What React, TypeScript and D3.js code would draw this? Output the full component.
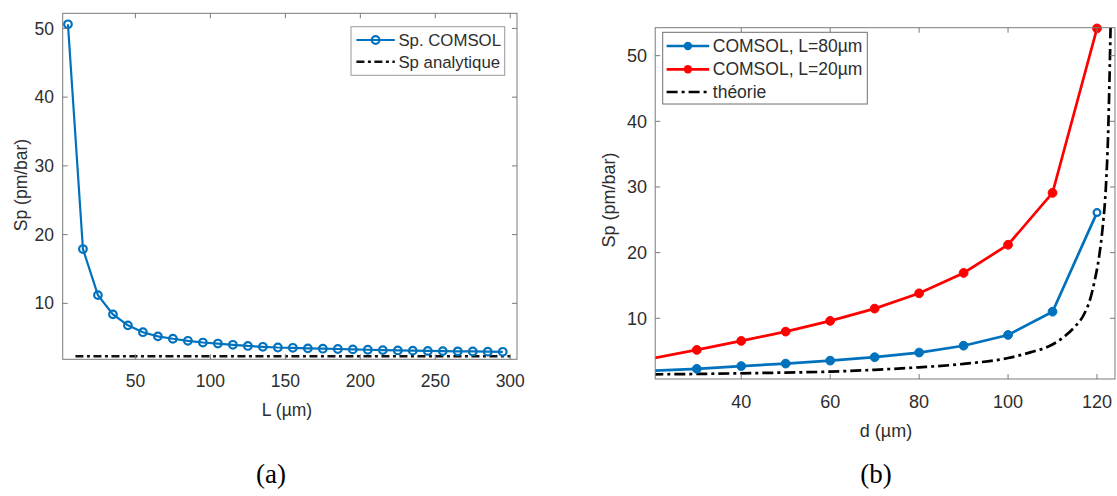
import React from "react";
import * as d3 from "d3";

// ---------- Panel (a) data ----------
const lengthsL = [5, 15, 25, 35, 45, 55, 65, 75, 85, 95, 105, 115, 125, 135, 145, 155, 165, 175, 185, 195, 205, 215, 225, 235, 245, 255, 265, 275, 285, 295];
const spComsol = [50.6, 17.9, 11.2, 8.4, 6.8, 5.8, 5.2, 4.85, 4.55, 4.3, 4.15, 3.97, 3.8, 3.68, 3.58, 3.53, 3.45, 3.4, 3.36, 3.3, 3.25, 3.2, 3.15, 3.12, 3.08, 3.05, 3.02, 3.0, 2.97, 2.95];
const analyticL = [10, 300];
const analyticSp = [2.3, 2.3];
const ticksXa = [50, 100, 150, 200, 250, 300];
const ticksYa = [10, 20, 30, 40, 50];

// ---------- Panel (b) data ----------
const dValues = [20, 30, 40, 50, 60, 70, 80, 90, 100, 110, 120];
const spL80 = [2.0, 2.3, 2.72, 3.1, 3.55, 4.07, 4.78, 5.82, 7.46, 11.0, 26.1];
const spL20 = [3.9, 5.18, 6.55, 7.97, 9.6, 11.47, 13.8, 16.9, 21.2, 29.1, 54.15];
const theoryD = [20, 30, 40, 50, 60, 70, 80, 90, 100, 105, 110, 113, 115, 117, 118.5, 119.5, 120.5, 121.3, 122, 122.5, 122.8, 123.1];
const theorySp = [1.46, 1.52, 1.62, 1.73, 1.87, 2.15, 2.53, 3.05, 3.95, 4.8, 6.0, 7.4, 8.7, 10.5, 13, 15.8, 19.5, 24, 30, 38, 46, 56];
const ticksXb = [40, 60, 80, 100, 120];
const ticksYb = [10, 20, 30, 40, 50];

const FONT = "'Liberation Sans', Arial, Helvetica, sans-serif";
const SERIF = "'Liberation Serif', 'Times New Roman', serif";
const BLUE = "#0072BD";
const RED = "#FF0000";
const TXT = "#2e2e2e";
const FRAME = "#7a7a7a";
const DASH_A = "8,3.5,3,3.5";
const DASH_B = "11,4,3,4";

function Frame({ x0, x1, y0, y1, xs, ys, xt, yt, fs, xLabelY, yLabelX }: any) {
  const tl = 5;
  return (
    <g>
      <rect x={x0} y={y0} width={x1 - x0} height={y1 - y0} fill="none" stroke={FRAME} strokeWidth={1} />
      {xt.map((t: number) => (
        <g key={"x" + t}>
          <line x1={xs(t)} x2={xs(t)} y1={y1} y2={y1 - tl} stroke={FRAME} />
          <line x1={xs(t)} x2={xs(t)} y1={y0} y2={y0 + tl} stroke={FRAME} />
          <text x={xs(t)} y={xLabelY} textAnchor="middle" fontSize={fs} fill={TXT} fontFamily={FONT}>{t}</text>
        </g>
      ))}
      {yt.map((t: number) => (
        <g key={"y" + t}>
          <line x1={x0} x2={x0 + tl} y1={ys(t)} y2={ys(t)} stroke={FRAME} />
          <line x1={x1} x2={x1 - tl} y1={ys(t)} y2={ys(t)} stroke={FRAME} />
          <text x={yLabelX} y={ys(t)} dy="0.35em" textAnchor="end" fontSize={fs} fill={TXT} fontFamily={FONT}>{t}</text>
        </g>
      ))}
    </g>
  );
}

export default function App() {
  // Panel (a)
  const ax0 = 62.7, ax1 = 517, ay0 = 13.3, ay1 = 359.3;
  const xa = d3.scaleLinear().domain([1.5, 304.5]).range([ax0, ax1]);
  const ya = d3.scaleLinear().domain([1.86, 52.2]).range([ay1, ay0]);
  const lineA = d3.line<number>().x((_, i) => xa(lengthsL[i])).y((v) => ya(v));
  const lineAn = d3.line<number>().x((_, i) => xa(analyticL[i])).y((v) => ya(v));

  // Panel (b)
  const bx0 = 655.2, bx1 = 1115, by0 = 27.7, by1 = 379;
  const xb = d3.scaleLinear().domain([20.65, 124.05]).range([bx0, bx1]);
  const yb = d3.scaleLinear().domain([0.75, 54.26]).range([by1, by0]);
  const lineB80 = d3.line<number>().x((_, i) => xb(dValues[i])).y((v) => yb(v));
  const lineB20 = d3.line<number>().x((_, i) => xb(dValues[i])).y((v) => yb(v));
  const lineTh = d3.line<number>().x((_, i) => xb(theoryD[i])).y((v) => yb(v)).curve(d3.curveMonotoneX);

  return (
    <svg width={1117} height={496} style={{ position: "absolute", left: 0, top: 0, background: "#fff" }}>
      <defs>
        <clipPath id="clipA"><rect x={ax0} y={ay0} width={ax1 - ax0} height={ay1 - ay0} /></clipPath>
        <clipPath id="clipB"><rect x={bx0} y={by0} width={bx1 - bx0} height={by1 - by0} /></clipPath>
      </defs>

      {/* ---------- Panel (a) ---------- */}
      <g>
        <path d={lineAn(analyticSp) || ""} fill="none" stroke="#111" strokeWidth={2.6} strokeDasharray={DASH_A} clipPath="url(#clipA)" />
        <path d={lineA(spComsol) || ""} fill="none" stroke={BLUE} strokeWidth={2.2} clipPath="url(#clipA)" />
        {spComsol.map((v, i) => (
          <circle key={i} cx={xa(lengthsL[i])} cy={ya(v)} r={3.8} fill="none" stroke={BLUE} strokeWidth={2.2} />
        ))}
        <Frame x0={ax0} x1={ax1} y0={ay0} y1={ay1} xs={xa} ys={ya} xt={ticksXa} yt={ticksYa} fs={17.5} xLabelY={387} yLabelX={54} />
        <text x={287} y={416} textAnchor="middle" fontSize={17.5} fill={TXT} fontFamily={FONT}>L (µm)</text>
        <text transform="translate(21,185) rotate(-90)" textAnchor="middle" dy="0.35em" fontSize={17.5} fill={TXT} fontFamily={FONT}>Sp (pm/bar)</text>
        {/* legend */}
        <rect x={351} y={26.7} width={153.7} height={48.6} fill="#fff" stroke="#999" strokeWidth={1} />
        <line x1={356.4} x2={394.8} y1={40} y2={40} stroke={BLUE} strokeWidth={2.2} />
        <circle cx={375.6} cy={40} r={3.8} fill="none" stroke={BLUE} strokeWidth={2.2} />
        <text x={398.4} y={40} dy="0.35em" fontSize={16.8} fill={TXT} fontFamily={FONT}>Sp. COMSOL</text>
        <line x1={356.4} x2={394.8} y1={61.7} y2={61.7} stroke="#111" strokeWidth={2.6} strokeDasharray={DASH_A} />
        <text x={398.4} y={61.7} dy="0.35em" fontSize={16.8} fill={TXT} fontFamily={FONT}>Sp analytique</text>
        <text x={271} y={483} textAnchor="middle" fontSize={27} fill="#000" fontFamily={SERIF}>(a)</text>
      </g>

      {/* ---------- Panel (b) ---------- */}
      <g>
        <g clipPath="url(#clipB)">
          <path d={lineTh(theorySp) || ""} fill="none" stroke="#000" strokeWidth={2.7} strokeDasharray={DASH_B} />
          <path d={lineB80(spL80) || ""} fill="none" stroke={BLUE} strokeWidth={2.7} />
          <path d={lineB20(spL20) || ""} fill="none" stroke={RED} strokeWidth={2.7} />
        </g>
        {spL80.map((v, i) =>
          dValues[i] >= 20.65 ? (
            <circle key={"b" + i} cx={xb(dValues[i])} cy={yb(v)} r={i === spL80.length - 1 ? 3.4 : 4.4} fill={i === spL80.length - 1 ? "#fff" : BLUE} stroke={BLUE} strokeWidth={i === spL80.length - 1 ? 2.2 : 1} />
          ) : null
        )}
        {spL20.map((v, i) =>
          dValues[i] >= 20.65 ? (
            <circle key={"r" + i} cx={xb(dValues[i])} cy={yb(v)} r={4.4} fill={RED} stroke={RED} strokeWidth={1} />
          ) : null
        )}
        <Frame x0={bx0} x1={bx1} y0={by0} y1={by1} xs={xb} ys={yb} xt={ticksXb} yt={ticksYb} fs={18} xLabelY={408} yLabelX={647} />
        <text x={886} y={437} textAnchor="middle" fontSize={18} fill={TXT} fontFamily={FONT}>d (µm)</text>
        <text transform="translate(609,200) rotate(-90)" textAnchor="middle" dy="0.35em" fontSize={18} fill={TXT} fontFamily={FONT}>Sp (pm/bar)</text>
        {/* legend */}
        <rect x={662.7} y={32.3} width={204.6} height={71.7} fill="#fff" stroke="#6e6e6e" strokeWidth={1} />
        <line x1={666.6} x2={709.2} y1={46} y2={46} stroke={BLUE} strokeWidth={2.7} />
        <circle cx={687.9} cy={46} r={4.2} fill={BLUE} />
        <text x={712.8} y={46} dy="0.35em" fontSize={17.5} fill={TXT} fontFamily={FONT}>COMSOL, L=80µm</text>
        <line x1={666.6} x2={709.2} y1={69.3} y2={69.3} stroke={RED} strokeWidth={2.7} />
        <circle cx={687.9} cy={69.3} r={4.2} fill={RED} />
        <text x={712.8} y={69.3} dy="0.35em" fontSize={17.5} fill={TXT} fontFamily={FONT}>COMSOL, L=20µm</text>
        <line x1={666.6} x2={709.2} y1={92} y2={92} stroke="#000" strokeWidth={2.7} strokeDasharray={DASH_B} />
        <text x={712.8} y={92} dy="0.35em" fontSize={17.5} fill={TXT} fontFamily={FONT}>théorie</text>
        <text x={876} y={483} textAnchor="middle" fontSize={27} fill="#000" fontFamily={SERIF}>(b)</text>
      </g>
    </svg>
  );
}
